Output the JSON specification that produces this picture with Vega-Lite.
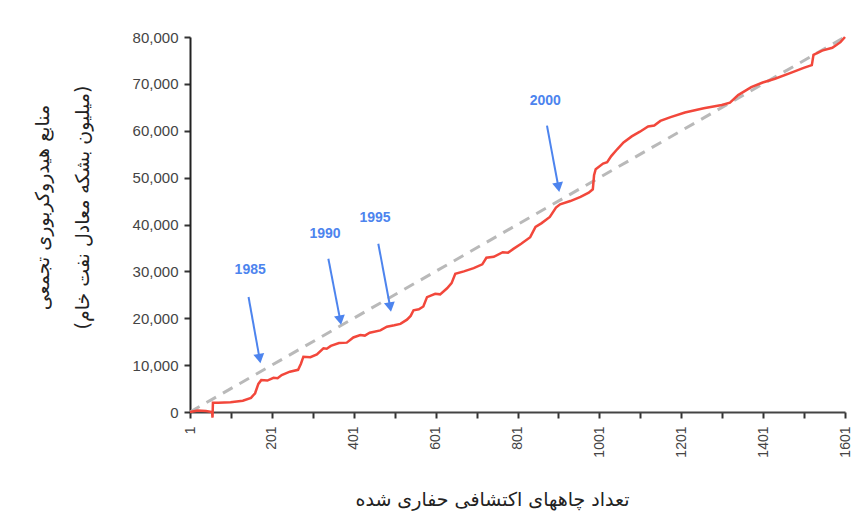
{
  "$schema": "https://vega.github.io/schema/vega-lite/v6.json",
  "autosize": "none",
  "width": 655,
  "height": 375,
  "padding": {"left": 190, "top": 37, "right": 7, "bottom": 117},
  "background": "white",
  "config": {"view": {"stroke": null}},
  "datasets": {
    "trend": [{"n": 1, "v": 0}, {"n": 1601, "v": 80000}],
    "cum": [
      {"n": 1, "v": 0}, {"n": 20, "v": 300}, {"n": 40, "v": 200}, {"n": 55, "v": 0}, {"n": 56, "v": -1200}, {"n": 57, "v": 2000},
      {"n": 70, "v": 2000}, {"n": 100, "v": 2100}, {"n": 130, "v": 2400}, {"n": 150, "v": 3000}, {"n": 160, "v": 4000},
      {"n": 168, "v": 6000}, {"n": 175, "v": 6800}, {"n": 190, "v": 6700}, {"n": 205, "v": 7300}, {"n": 215, "v": 7200}, {"n": 225, "v": 7900},
      {"n": 245, "v": 8600}, {"n": 265, "v": 9000}, {"n": 272, "v": 10300}, {"n": 278, "v": 11800}, {"n": 295, "v": 11700},
      {"n": 311, "v": 12300}, {"n": 327, "v": 13600}, {"n": 335, "v": 13500}, {"n": 345, "v": 14100}, {"n": 365, "v": 14700}, {"n": 384, "v": 14800},
      {"n": 400, "v": 15900}, {"n": 417, "v": 16400}, {"n": 428, "v": 16300}, {"n": 440, "v": 16900}, {"n": 466, "v": 17400}, {"n": 482, "v": 18200},
      {"n": 500, "v": 18500}, {"n": 515, "v": 18800}, {"n": 531, "v": 19700}, {"n": 540, "v": 20500}, {"n": 547, "v": 21700}, {"n": 560, "v": 21900},
      {"n": 571, "v": 22500}, {"n": 580, "v": 24500}, {"n": 600, "v": 25200}, {"n": 612, "v": 25100}, {"n": 629, "v": 26400}, {"n": 640, "v": 27500},
      {"n": 649, "v": 29500}, {"n": 670, "v": 30000}, {"n": 694, "v": 30700}, {"n": 715, "v": 31500}, {"n": 725, "v": 32900},
      {"n": 743, "v": 33100}, {"n": 765, "v": 34100}, {"n": 778, "v": 34000}, {"n": 791, "v": 34800}, {"n": 810, "v": 35900}, {"n": 832, "v": 37300},
      {"n": 845, "v": 39500}, {"n": 860, "v": 40300}, {"n": 880, "v": 41600}, {"n": 895, "v": 43600}, {"n": 905, "v": 44300},
      {"n": 930, "v": 45000}, {"n": 955, "v": 45900}, {"n": 975, "v": 46800}, {"n": 985, "v": 47500}, {"n": 988, "v": 50500},
      {"n": 992, "v": 51800}, {"n": 1010, "v": 53000}, {"n": 1020, "v": 53300}, {"n": 1030, "v": 54600}, {"n": 1045, "v": 56100}, {"n": 1060, "v": 57500},
      {"n": 1080, "v": 58800}, {"n": 1100, "v": 59800}, {"n": 1120, "v": 60900}, {"n": 1135, "v": 61100}, {"n": 1150, "v": 62100}, {"n": 1175, "v": 62900},
      {"n": 1210, "v": 63900}, {"n": 1256, "v": 64800}, {"n": 1300, "v": 65500}, {"n": 1320, "v": 66000}, {"n": 1340, "v": 67600},
      {"n": 1372, "v": 69300}, {"n": 1400, "v": 70300}, {"n": 1430, "v": 71100}, {"n": 1470, "v": 72400}, {"n": 1500, "v": 73400},
      {"n": 1520, "v": 74000}, {"n": 1524, "v": 76200}, {"n": 1545, "v": 77100}, {"n": 1570, "v": 77700}, {"n": 1590, "v": 78900},
      {"n": 1601, "v": 80000}
    ],
    "notes": [
      {"year": "1985", "tn": 148, "tv": 30200, "n1": 144, "v1": 24540, "n2": 171, "v2": 11400},
      {"year": "1990", "tn": 331, "tv": 38000, "n1": 339, "v1": 32700, "n2": 368, "v2": 19600},
      {"year": "1995", "tn": 453, "tv": 41400, "n1": 461, "v1": 35900, "n2": 490, "v2": 22400},
      {"year": "2000", "tn": 869, "tv": 66400, "n1": 873, "v1": 61100, "n2": 901, "v2": 47950}
    ]
  },
  "layer": [
    {
      "data": {"name": "trend"},
      "mark": {"type": "line", "color": "#b9b9b9", "strokeWidth": 3, "strokeDash": [11, 8]},
      "encoding": {
        "x": {
          "field": "n", "type": "quantitative",
          "scale": {"domain": [1, 1601], "nice": false, "zero": false},
          "axis": {
            "title": "تعداد چاههای اکتشافی حفاری شده",
            "titleFont": "DejaVu Sans", "titleFontSize": 19, "titleFontWeight": "normal", "titleColor": "#222",
            "titlePadding": 33, "titleX": 302,
            "grid": false,
            "values": [1, 51, 101, 151, 201, 251, 301, 351, 401, 451, 501, 551, 601, 651, 701, 751, 801, 851, 901, 951, 1001, 1051, 1101, 1151, 1201, 1251, 1301, 1351, 1401, 1451, 1501, 1551, 1601],
            "format": "d",
            "labelExpr": "(datum.value - 1) % 200 == 0 ? datum.label : ''",
            "labelOverlap": false,
            "labelAngle": -90,
            "labelFont": "Liberation Sans", "labelFontSize": 14, "labelColor": "#444",
            "labelPadding": 8,
            "ticks": true, "tickSize": 6, "tickColor": "#333", "tickWidth": 2,
            "domainColor": "#444", "domainWidth": 2
          }
        },
        "y": {
          "field": "v", "type": "quantitative",
          "scale": {"domain": [0, 80000], "nice": false},
          "axis": {
            "title": ["منابع هیدروکربوری تجمعی", "(میلیون بشکه معادل نفت خام)"],
            "titleFont": "DejaVu Sans", "titleFontSize": 19, "titleFontWeight": "normal", "titleColor": "#222",
            "titleLineHeight": 40,
            "titlePadding": 40,
            "titleY": 170,
            "grid": false,
            "values": [0, 10000, 20000, 30000, 40000, 50000, 60000, 70000, 80000],
            "format": ",.0f",
            "labelFont": "Liberation Sans", "labelFontSize": 15, "labelColor": "#444",
            "labelPadding": 6,
            "ticks": true, "tickSize": 6, "tickColor": "#333", "tickWidth": 2,
            "domainColor": "#222", "domainWidth": 2
          }
        }
      }
    },
    {
      "data": {"name": "cum"},
      "mark": {"type": "line", "color": "#f2473b", "strokeWidth": 2.5},
      "encoding": {
        "x": {"field": "n", "type": "quantitative"},
        "y": {"field": "v", "type": "quantitative"}
      }
    },
    {
      "data": {"name": "notes"},
      "mark": {"type": "rule", "color": "#4d84ee", "strokeWidth": 2},
      "encoding": {
        "x": {"field": "n1", "type": "quantitative"},
        "y": {"field": "v1", "type": "quantitative"},
        "x2": {"field": "n2"},
        "y2": {"field": "v2"}
      }
    },
    {
      "data": {"name": "notes"},
      "mark": {"type": "point", "shape": "triangle-down", "filled": true, "color": "#4d84ee", "opacity": 1, "size": 120, "angle": 350},
      "encoding": {
        "x": {"field": "n2", "type": "quantitative"},
        "y": {"field": "v2", "type": "quantitative"}
      }
    },
    {
      "data": {"name": "notes"},
      "mark": {"type": "text", "color": "#4d84ee", "font": "Liberation Sans", "fontSize": 14, "fontWeight": "bold", "align": "center", "baseline": "middle"},
      "encoding": {
        "x": {"field": "tn", "type": "quantitative"},
        "y": {"field": "tv", "type": "quantitative"},
        "text": {"field": "year"}
      }
    }
  ]
}
